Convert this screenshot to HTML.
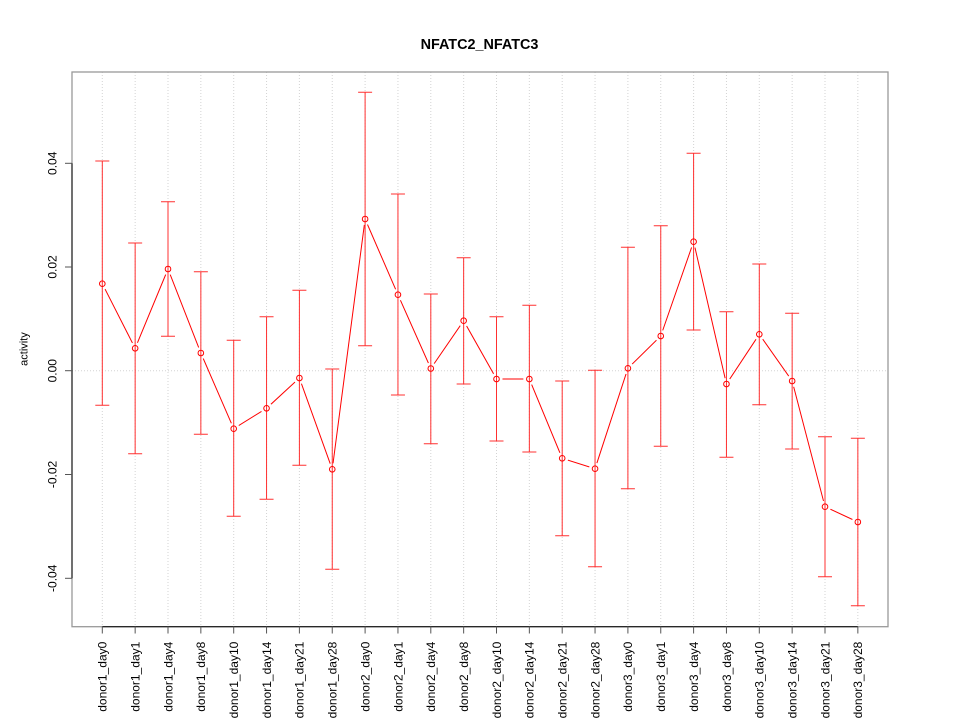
<!DOCTYPE html>
<html>
<head>
<meta charset="utf-8">
<style>
  html, body { margin:0; padding:0; background:#fff; }
  svg { display:block; }
  text { font-family: "Liberation Sans", Arial, sans-serif; }
</style>
</head>
<body>
<svg width="960" height="720" viewBox="0 0 960 720" xmlns="http://www.w3.org/2000/svg">
  <rect width="960" height="720" fill="#fff"/>
  <defs>
    <mask id="gaps" maskUnits="userSpaceOnUse" x="0" y="0" width="960" height="720">
      <rect x="0" y="0" width="960" height="720" fill="#fff"/>
      <g fill="#000">
        <circle cx="102.3" cy="283.7" r="6"/>
        <circle cx="135.15" cy="348.3" r="6"/>
        <circle cx="168.0" cy="269" r="6"/>
        <circle cx="200.85" cy="353" r="6"/>
        <circle cx="233.7" cy="428.7" r="6"/>
        <circle cx="266.55" cy="408.3" r="6"/>
        <circle cx="299.4" cy="378" r="6"/>
        <circle cx="332.25" cy="469.3" r="6"/>
        <circle cx="365.1" cy="219" r="6"/>
        <circle cx="397.95" cy="294.7" r="6"/>
        <circle cx="430.8" cy="368.5" r="6"/>
        <circle cx="463.65" cy="320.7" r="6"/>
        <circle cx="496.5" cy="379" r="6"/>
        <circle cx="529.35" cy="379" r="6"/>
        <circle cx="562.2" cy="458.3" r="6"/>
        <circle cx="595.05" cy="468.7" r="6"/>
        <circle cx="627.9" cy="368.3" r="6"/>
        <circle cx="660.75" cy="336" r="6"/>
        <circle cx="693.6" cy="241.7" r="6"/>
        <circle cx="726.45" cy="384" r="6"/>
        <circle cx="759.3" cy="334.3" r="6"/>
        <circle cx="792.15" cy="381" r="6"/>
        <circle cx="825.0" cy="506.7" r="6"/>
        <circle cx="857.85" cy="522" r="6"/>
      </g>
    </mask>
  </defs>

  <!-- Title -->
  <text x="479.5" y="49" text-anchor="middle" font-size="14.4" font-weight="bold" fill="#000">NFATC2_NFATC3</text>

  <!-- grid: vertical dotted lines -->
  <g stroke="#d3d3d3" stroke-width="1" stroke-dasharray="1,2">
    <line x1="102.3" y1="72" x2="102.3" y2="626.7"/>
    <line x1="135.15" y1="72" x2="135.15" y2="626.7"/>
    <line x1="168.0" y1="72" x2="168.0" y2="626.7"/>
    <line x1="200.85" y1="72" x2="200.85" y2="626.7"/>
    <line x1="233.7" y1="72" x2="233.7" y2="626.7"/>
    <line x1="266.55" y1="72" x2="266.55" y2="626.7"/>
    <line x1="299.4" y1="72" x2="299.4" y2="626.7"/>
    <line x1="332.25" y1="72" x2="332.25" y2="626.7"/>
    <line x1="365.1" y1="72" x2="365.1" y2="626.7"/>
    <line x1="397.95" y1="72" x2="397.95" y2="626.7"/>
    <line x1="430.8" y1="72" x2="430.8" y2="626.7"/>
    <line x1="463.65" y1="72" x2="463.65" y2="626.7"/>
    <line x1="496.5" y1="72" x2="496.5" y2="626.7"/>
    <line x1="529.35" y1="72" x2="529.35" y2="626.7"/>
    <line x1="562.2" y1="72" x2="562.2" y2="626.7"/>
    <line x1="595.05" y1="72" x2="595.05" y2="626.7"/>
    <line x1="627.9" y1="72" x2="627.9" y2="626.7"/>
    <line x1="660.75" y1="72" x2="660.75" y2="626.7"/>
    <line x1="693.6" y1="72" x2="693.6" y2="626.7"/>
    <line x1="726.45" y1="72" x2="726.45" y2="626.7"/>
    <line x1="759.3" y1="72" x2="759.3" y2="626.7"/>
    <line x1="792.15" y1="72" x2="792.15" y2="626.7"/>
    <line x1="825.0" y1="72" x2="825.0" y2="626.7"/>
    <line x1="857.85" y1="72" x2="857.85" y2="626.7"/>
    <line x1="72" y1="370.7" x2="888" y2="370.7"/>
  </g>

  <!-- box -->
  <rect x="72" y="72" width="816" height="554.7" fill="none" stroke="#999" stroke-width="1.3"/>

  <!-- axes -->
  <g stroke="#000" stroke-width="1" fill="none">
    <line x1="72" y1="163.3" x2="72" y2="578.3"/>
    <line x1="102.3" y1="626.7" x2="857.85" y2="626.7"/>
  </g>
  <g stroke="#555" stroke-width="1">
    <line x1="65" y1="163.3" x2="72" y2="163.3"/>
    <line x1="65" y1="267" x2="72" y2="267"/>
    <line x1="65" y1="370.7" x2="72" y2="370.7"/>
    <line x1="65" y1="474.5" x2="72" y2="474.5"/>
    <line x1="65" y1="578.3" x2="72" y2="578.3"/>

    <line x1="102.3" y1="626.7" x2="102.3" y2="633.5"/>
    <line x1="135.15" y1="626.7" x2="135.15" y2="633.5"/>
    <line x1="168.0" y1="626.7" x2="168.0" y2="633.5"/>
    <line x1="200.85" y1="626.7" x2="200.85" y2="633.5"/>
    <line x1="233.7" y1="626.7" x2="233.7" y2="633.5"/>
    <line x1="266.55" y1="626.7" x2="266.55" y2="633.5"/>
    <line x1="299.4" y1="626.7" x2="299.4" y2="633.5"/>
    <line x1="332.25" y1="626.7" x2="332.25" y2="633.5"/>
    <line x1="365.1" y1="626.7" x2="365.1" y2="633.5"/>
    <line x1="397.95" y1="626.7" x2="397.95" y2="633.5"/>
    <line x1="430.8" y1="626.7" x2="430.8" y2="633.5"/>
    <line x1="463.65" y1="626.7" x2="463.65" y2="633.5"/>
    <line x1="496.5" y1="626.7" x2="496.5" y2="633.5"/>
    <line x1="529.35" y1="626.7" x2="529.35" y2="633.5"/>
    <line x1="562.2" y1="626.7" x2="562.2" y2="633.5"/>
    <line x1="595.05" y1="626.7" x2="595.05" y2="633.5"/>
    <line x1="627.9" y1="626.7" x2="627.9" y2="633.5"/>
    <line x1="660.75" y1="626.7" x2="660.75" y2="633.5"/>
    <line x1="693.6" y1="626.7" x2="693.6" y2="633.5"/>
    <line x1="726.45" y1="626.7" x2="726.45" y2="633.5"/>
    <line x1="759.3" y1="626.7" x2="759.3" y2="633.5"/>
    <line x1="792.15" y1="626.7" x2="792.15" y2="633.5"/>
    <line x1="825.0" y1="626.7" x2="825.0" y2="633.5"/>
    <line x1="857.85" y1="626.7" x2="857.85" y2="633.5"/>
  </g>

  <!-- y tick labels -->
  <g font-size="12" fill="#000" text-anchor="middle">
    <text transform="translate(56.5,163.3) rotate(-90)">0.04</text>
    <text transform="translate(56.5,267) rotate(-90)">0.02</text>
    <text transform="translate(56.5,370.7) rotate(-90)">0.00</text>
    <text transform="translate(56.5,474.5) rotate(-90)">-0.02</text>
    <text transform="translate(56.5,578.3) rotate(-90)">-0.04</text>
  </g>

  <!-- y axis label -->
  <text transform="translate(27.5,349) rotate(-90)" text-anchor="middle" font-size="11" fill="#000">activity</text>

  <!-- x tick labels -->
  <g font-size="12" fill="#000" text-anchor="end">
    <text transform="translate(106.6,641.7) rotate(-90)">donor1_day0</text>
    <text transform="translate(139.45,641.7) rotate(-90)">donor1_day1</text>
    <text transform="translate(172.3,641.7) rotate(-90)">donor1_day4</text>
    <text transform="translate(205.15,641.7) rotate(-90)">donor1_day8</text>
    <text transform="translate(238.0,641.7) rotate(-90)">donor1_day10</text>
    <text transform="translate(270.85,641.7) rotate(-90)">donor1_day14</text>
    <text transform="translate(303.7,641.7) rotate(-90)">donor1_day21</text>
    <text transform="translate(336.55,641.7) rotate(-90)">donor1_day28</text>
    <text transform="translate(369.4,641.7) rotate(-90)">donor2_day0</text>
    <text transform="translate(402.25,641.7) rotate(-90)">donor2_day1</text>
    <text transform="translate(435.1,641.7) rotate(-90)">donor2_day4</text>
    <text transform="translate(467.95,641.7) rotate(-90)">donor2_day8</text>
    <text transform="translate(500.8,641.7) rotate(-90)">donor2_day10</text>
    <text transform="translate(533.65,641.7) rotate(-90)">donor2_day14</text>
    <text transform="translate(566.5,641.7) rotate(-90)">donor2_day21</text>
    <text transform="translate(599.35,641.7) rotate(-90)">donor2_day28</text>
    <text transform="translate(632.2,641.7) rotate(-90)">donor3_day0</text>
    <text transform="translate(665.05,641.7) rotate(-90)">donor3_day1</text>
    <text transform="translate(697.9,641.7) rotate(-90)">donor3_day4</text>
    <text transform="translate(730.75,641.7) rotate(-90)">donor3_day8</text>
    <text transform="translate(763.6,641.7) rotate(-90)">donor3_day10</text>
    <text transform="translate(796.45,641.7) rotate(-90)">donor3_day14</text>
    <text transform="translate(829.3,641.7) rotate(-90)">donor3_day21</text>
    <text transform="translate(862.15,641.7) rotate(-90)">donor3_day28</text>
  </g>

  <!-- connecting line with gaps -->
  <polyline mask="url(#gaps)" fill="none" stroke="#ff0000" stroke-width="1"
    points="102.3,283.7 135.15,348.3 168.0,269 200.85,353 233.7,428.7 266.55,408.3 299.4,378 332.25,469.3 365.1,219 397.95,294.7 430.8,368.5 463.65,320.7 496.5,379 529.35,379 562.2,458.3 595.05,468.7 627.9,368.3 660.75,336 693.6,241.7 726.45,384 759.3,334.3 792.15,381 825.0,506.7 857.85,522"/>

  <!-- error bars -->
  <g stroke="#ff3030" stroke-width="1" fill="none">
    <path d="M102.3,161V405.3M95.3,161H109.3M95.3,405.3H109.3"/>
    <path d="M135.15,243V453.7M128.15,243H142.15M128.15,453.7H142.15"/>
    <path d="M168.0,201.7V336.3M161,201.7H175M161,336.3H175"/>
    <path d="M200.85,271.7V434.3M193.85,271.7H207.85M193.85,434.3H207.85"/>
    <path d="M233.7,340.3V516.3M226.7,340.3H240.7M226.7,516.3H240.7"/>
    <path d="M266.55,316.7V499.3M259.55,316.7H273.55M259.55,499.3H273.55"/>
    <path d="M299.4,290.3V465.3M292.4,290.3H306.4M292.4,465.3H306.4"/>
    <path d="M332.25,369V569.3M325.25,369H339.25M325.25,569.3H339.25"/>
    <path d="M365.1,92.3V345.7M358.1,92.3H372.1M358.1,345.7H372.1"/>
    <path d="M397.95,194V395M390.95,194H404.95M390.95,395H404.95"/>
    <path d="M430.8,294V443.7M423.8,294H437.8M423.8,443.7H437.8"/>
    <path d="M463.65,257.7V384M456.65,257.7H470.65M456.65,384H470.65"/>
    <path d="M496.5,316.7V441M489.5,316.7H503.5M489.5,441H503.5"/>
    <path d="M529.35,305.3V452M522.35,305.3H536.35M522.35,452H536.35"/>
    <path d="M562.2,381V535.7M555.2,381H569.2M555.2,535.7H569.2"/>
    <path d="M595.05,370.3V566.7M588.05,370.3H602.05M588.05,566.7H602.05"/>
    <path d="M627.9,247.3V488.7M620.9,247.3H634.9M620.9,488.7H634.9"/>
    <path d="M660.75,225.7V446.3M653.75,225.7H667.75M653.75,446.3H667.75"/>
    <path d="M693.6,153.3V330M686.6,153.3H700.6M686.6,330H700.6"/>
    <path d="M726.45,311.7V457.3M719.45,311.7H733.45M719.45,457.3H733.45"/>
    <path d="M759.3,264V404.7M752.3,264H766.3M752.3,404.7H766.3"/>
    <path d="M792.15,313.3V449M785.15,313.3H799.15M785.15,449H799.15"/>
    <path d="M825.0,436.7V576.7M818,436.7H832M818,576.7H832"/>
    <path d="M857.85,438.3V605.7M850.85,438.3H864.85M850.85,605.7H864.85"/>
  </g>

  <!-- points -->
  <g stroke="#ff0000" stroke-width="1" fill="none">
    <circle cx="102.3" cy="283.7" r="2.8"/>
    <circle cx="135.15" cy="348.3" r="2.8"/>
    <circle cx="168.0" cy="269" r="2.8"/>
    <circle cx="200.85" cy="353" r="2.8"/>
    <circle cx="233.7" cy="428.7" r="2.8"/>
    <circle cx="266.55" cy="408.3" r="2.8"/>
    <circle cx="299.4" cy="378" r="2.8"/>
    <circle cx="332.25" cy="469.3" r="2.8"/>
    <circle cx="365.1" cy="219" r="2.8"/>
    <circle cx="397.95" cy="294.7" r="2.8"/>
    <circle cx="430.8" cy="368.5" r="2.8"/>
    <circle cx="463.65" cy="320.7" r="2.8"/>
    <circle cx="496.5" cy="379" r="2.8"/>
    <circle cx="529.35" cy="379" r="2.8"/>
    <circle cx="562.2" cy="458.3" r="2.8"/>
    <circle cx="595.05" cy="468.7" r="2.8"/>
    <circle cx="627.9" cy="368.3" r="2.8"/>
    <circle cx="660.75" cy="336" r="2.8"/>
    <circle cx="693.6" cy="241.7" r="2.8"/>
    <circle cx="726.45" cy="384" r="2.8"/>
    <circle cx="759.3" cy="334.3" r="2.8"/>
    <circle cx="792.15" cy="381" r="2.8"/>
    <circle cx="825.0" cy="506.7" r="2.8"/>
    <circle cx="857.85" cy="522" r="2.8"/>
  </g>
</svg>
</body>
</html>
